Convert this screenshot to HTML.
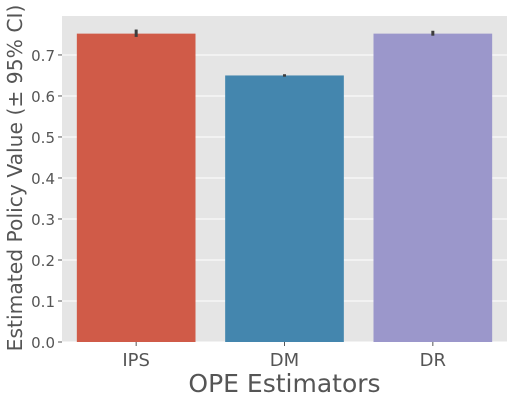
<!DOCTYPE html>
<html><head><meta charset="utf-8"><style>
body{margin:0;background:#fff;}
svg{display:block;font-family:"DejaVu Sans","Liberation Sans",sans-serif;}
</style></head><body>
<svg id="chart" width="514" height="403"></svg>
<script>
const categories=["IPS","DM","DR"];
const values=[0.752,0.650,0.752];
const ciLow=[0.744,0.647,0.747];
const ciHigh=[0.762,0.653,0.759];
const colors=["#d05b48","#4486ae","#9b97cb"];
const ticks=[0,0.1,0.2,0.3,0.4,0.5,0.6,0.7];
const NS="http://www.w3.org/2000/svg";
const svg=document.getElementById('chart');
const L=62,R=507,T=16,B=342,yMax=0.795;
const y=v=>B-(v/yMax)*(B-T);
const band=(R-L)/categories.length;
const xc=i=>L+band*(i+0.5);
function mk(tag,attrs,parent){const e=document.createElementNS(NS,tag);for(const k in attrs)e.setAttribute(k,attrs[k]);(parent||svg).appendChild(e);return e;}
const bg=mk('rect',{x:L,y:T,width:R-L,height:B-T,fill:'#e5e5e5'});


ticks.forEach(t=>{
 const g=mk('line',{x1:L,x2:R,y1:y(t),y2:y(t),stroke:'#fff','stroke-width':1});
 
 
 const tk=mk('line',{x1:L-4,x2:L,y1:y(t),y2:y(t),stroke:'#555'});
 
 
 const tx=mk('text',{x:L-7,y:y(t)+6,'text-anchor':'end','font-size':15,fill:'#555'});
 tx.textContent=t.toFixed(1);
 
 
});
categories.forEach((c,i)=>{
 const w=band*0.8;
 const r=mk('rect',{x:xc(i)-w/2,y:y(values[i]),width:w,height:B-y(values[i]),fill:colors[i]});
 
 
 const e=mk('line',{x1:xc(i),x2:xc(i),y1:y(ciLow[i]),y2:y(ciHigh[i]),stroke:'#3d3d3d','stroke-width':3});
 
 
 const tk=mk('line',{x1:xc(i),x2:xc(i),y1:B,y2:B+4,stroke:'#555'});
 
 
 const tx=mk('text',{x:xc(i),y:B+24,'text-anchor':'middle','font-size':18,fill:'#555'});
 tx.textContent=c;
 
 
});
const xt=mk('text',{x:(L+R)/2,y:392,'text-anchor':'middle','font-size':25,fill:'#555'});
xt.textContent='OPE Estimators';


const yt=mk('text',{x:0,y:0,'text-anchor':'middle','font-size':20.3,fill:'#555',transform:'translate(22,178) rotate(-90)'});
yt.textContent='Estimated Policy Value (± 95% CI)';


</script>
</body></html>
